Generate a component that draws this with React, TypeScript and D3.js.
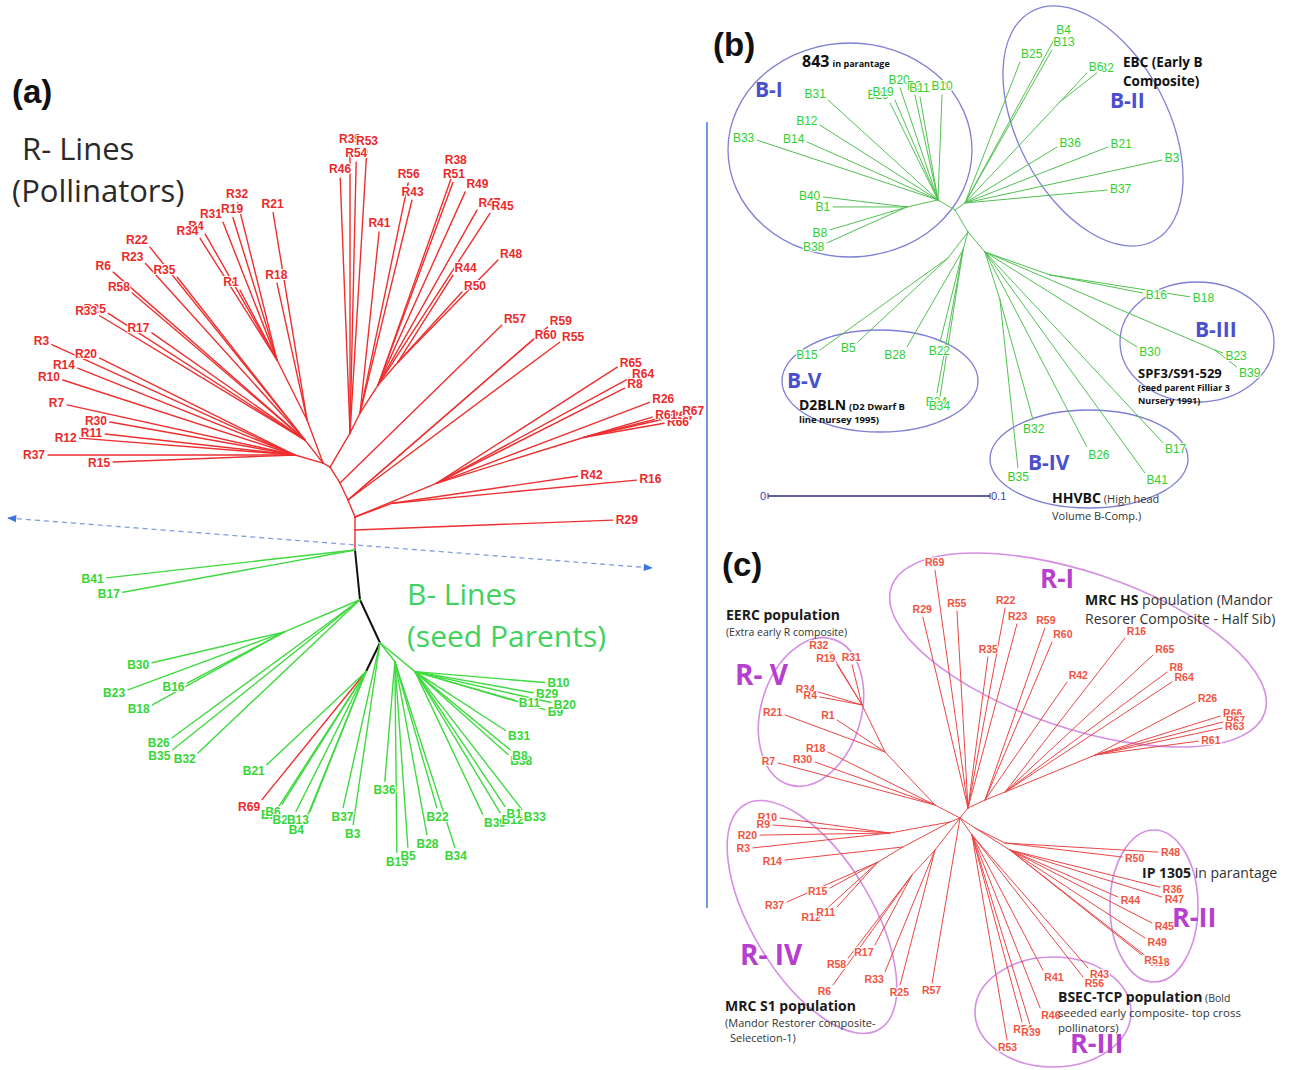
import React from "react";
import * as d3 from "d3";

// Unrooted neighbour-joining trees. Internal nodes: [id, parent, branch length, direction°, lineage]
// Leaves: [name, parent, branch length, direction°]. Directions are counter-clockwise from east.
type NodeRow = [string, string, number, number, string];
type LeafRow = [string, string, number, number];

// ---------- (a) pooled R- and B-lines ----------
const treeANodes: NodeRow[] = [
  ["Q1", "P0", 0.01, 90, "R"],
  ["Q2", "Q1", 0.0065, 90, "R"],
  ["Q3", "Q2", 0.02, 20.2, "R"],
  ["Q4", "Q2", 0.044, 22.5, "R"],
  ["Q6", "Q4", 0.0775, 17.3, "R"],
  ["Q5", "Q2", 0.0092, 112.4, "R"],
  ["Q7", "Q5", 0.0094, 115.2, "R"],
  ["Q8", "Q7", 0.0094, 122, "R"],
  ["A", "Q8", 0.004, 150.3, "R"],
  ["L1", "A", 0.0146, 164, "R"],
  ["L2", "A", 0.0146, 128.1, "R"],
  ["L3", "A", 0.023, 110.4, "R"],
  ["L4", "L3", 0.0335, 116.6, "R"],
  ["U0", "Q8", 0.0197, 59.5, "R"],
  ["U1", "U0", 0.0112, 63.4, "R"],
  ["U2", "U1", 0.0166, 57.3, "R"],
  ["U3", "U2", 0.0152, 49, "R"],
  ["K1", "P0", 0.025, -84.3, "S"],
  ["G1", "K1", 0.041, -156.9, "B"],
  ["K2", "K1", 0.0237, -65, "S"],
  ["K3", "K2", 0.016, -115.8, "S"],
  ["G2", "K2", 0.012, -51.7, "B"],
  ["G3", "K2", 0.0227, -39.6, "B"],
];

const treeALeaves: LeafRow[] = [
  ["R29", "Q1", 0.129, 2.2],
  ["R42", "Q3", 0.0935, 8.3],
  ["R16", "Q3", 0.1225, 5.4],
  ["R65", "Q4", 0.1075, 32.7],
  ["R64", "Q4", 0.11, 28.6],
  ["R8", "Q4", 0.1055, 26.8],
  ["R26", "Q4", 0.114, 20.8],
  ["R63", "Q6", 0.0425, 12.9],
  ["R66", "Q6", 0.0405, 9.9],
  ["R61", "Q6", 0.0355, 16.4],
  ["R67", "Q6", 0.049, 14.2],
  ["R60", "Q5", 0.122, 40.9],
  ["R59", "Q5", 0.132, 40.9],
  ["R55", "Q5", 0.132, 36.7],
  ["R57", "Q7", 0.113, 44.3],
  ["R37", "L1", 0.1235, 180],
  ["R15", "L1", 0.091, 182.2],
  ["R12", "L1", 0.108, 175.5],
  ["R11", "L1", 0.0955, 173.7],
  ["R30", "L1", 0.094, 169.9],
  ["R7", "L1", 0.1167, 167.6],
  ["R10", "L1", 0.122, 162.1],
  ["R14", "L1", 0.117, 158.2],
  ["R20", "L1", 0.109, 153.6],
  ["R3", "L1", 0.1335, 155.6],
  ["R25", "L2", 0.117, 147.2],
  ["R33", "L2", 0.12, 148.8],
  ["R17", "L2", 0.0935, 145],
  ["R58", "L2", 0.1135, 139.6],
  ["R6", "L2", 0.1275, 138.8],
  ["R22", "L2", 0.1238, 128.8],
  ["R23", "L2", 0.119, 132.1],
  ["R35", "L2", 0.1035, 128.1],
  ["R21", "L3", 0.105, 99.3],
  ["R18", "L3", 0.07, 102.4],
  ["R4", "L4", 0.0725, 119.7],
  ["R34", "L4", 0.072, 122.3],
  ["R1", "L4", 0.0395, 117.9],
  ["R19", "L4", 0.0745, 107.2],
  ["R31", "L4", 0.074, 111.4],
  ["R32", "L4", 0.081, 104],
  ["R46", "U0", 0.1275, 92.2],
  ["R54", "U0", 0.1355, 88.7],
  ["R39", "U0", 0.1425, 90],
  ["R53", "U0", 0.1418, 86.6],
  ["R41", "U1", 0.091, 84],
  ["R56", "U1", 0.1175, 78.2],
  ["R43", "U1", 0.1095, 76.3],
  ["R38", "U2", 0.115, 70.5],
  ["R51", "U2", 0.108, 69.7],
  ["R49", "U2", 0.106, 65.7],
  ["R47", "U2", 0.1005, 60.5],
  ["R45", "U2", 0.1025, 56.9],
  ["R48", "U3", 0.0715, 45.6],
  ["R44", "U3", 0.0515, 57.7],
  ["R50", "U3", 0.0475, 47.6],
  ["B41", "P0", 0.125, -173.6],
  ["B17", "P0", 0.118, -169.7],
  ["B30", "G1", 0.068, -166.9],
  ["B23", "G1", 0.0835, -159.7],
  ["B16", "G1", 0.055, -152.3],
  ["B18", "G1", 0.0755, -151.1],
  ["B26", "K1", 0.1165, -143.7],
  ["B35", "K1", 0.12, -141.3],
  ["B32", "K1", 0.1115, -136.6],
  ["R69", "K3", 0.0825, -129.1],
  ["B21", "K3", 0.068, -136.8],
  ["B2", "K3", 0.081, -122.9],
  ["B6", "K3", 0.0785, -122.3],
  ["B25", "K3", 0.0783, -116.6],
  ["B13", "K3", 0.0754, -111.8],
  ["B4", "K3", 0.081, -112.1],
  ["B37", "K2", 0.0845, -102.6],
  ["B3", "K2", 0.092, -98.4],
  ["B36", "G2", 0.06, -94.8],
  ["B15", "G2", 0.0955, -89.4],
  ["B5", "G2", 0.093, -86],
  ["B28", "G2", 0.088, -79.5],
  ["B22", "G2", 0.076, -74],
  ["B34", "G2", 0.0977, -72.1],
  ["B10", "G3", 0.065, -4.8],
  ["B29", "G3", 0.06, -10.1],
  ["B11", "G3", 0.0525, -16],
  ["B9", "G3", 0.0677, -16.3],
  ["B20", "G3", 0.0697, -12.8],
  ["B31", "G3", 0.054, -33],
  ["B38", "G3", 0.0623, -41.7],
  ["B8", "G3", 0.0615, -39.4],
  ["B39", "G3", 0.079, -64.6],
  ["B12", "G3", 0.0823, -58.9],
  ["B1", "G3", 0.081, -56.3],
  ["B33", "G3", 0.0873, -52.2],
];

// ---------- (b) B-lines (seed parents) ----------
const treeBNodes: NodeRow[] = [
  ["bI", "c0", 0.0089, 149.5, "B"],
  ["bIb", "bI", 0.0143, -167.3, "B"],
  ["bII", "c0", 0.0055, 35, "B"],
  ["bIIa", "bII", 0.0624, 46.8, "B"],
  ["bL", "c0", 0.0115, -59.4, "B"],
  ["bV1", "bL", 0.0148, -127.6, "B"],
  ["bV2", "bL", 0.0084, -105.5, "B"],
  ["br0", "bL", 0.0118, -49.6, "B"],
  ["br3", "br0", 0.031, -19.5, "B"],
  ["br2", "br0", 0.1125, -23.1, "B"],
  ["br1", "br0", 0.0226, -72.6, "B"],
];

const treeBLeaves: LeafRow[] = [
  ["B33", "bI", 0.0858, 161.7],
  ["B14", "bI", 0.0645, 156.1],
  ["B12", "bI", 0.0629, 147.6],
  ["B31", "bI", 0.0669, 137.7],
  ["B29", "bI", 0.0487, 116.3],
  ["B19", "bI", 0.049, 113.3],
  ["B20", "bI", 0.0533, 108.7],
  ["B9", "bI", 0.0484, 102.4],
  ["B11", "bI", 0.0471, 99.9],
  ["B10", "bI", 0.0473, 87.8],
  ["B40", "bIb", 0.038, 173.2],
  ["B1", "bIb", 0.0333, 180],
  ["B38", "bIb", 0.0395, -155.8],
  ["B8", "bIb", 0.0362, -163.4],
  ["B25", "bII", 0.0681, 68.7],
  ["B4", "bII", 0.0846, 61.4],
  ["B13", "bII", 0.0792, 60.4],
  ["B36", "bII", 0.0485, 31.3],
  ["B21", "bII", 0.0691, 21.4],
  ["B3", "bII", 0.0907, 12.3],
  ["B37", "bII", 0.0642, 5.2],
  ["B2", "bIIa", 0.0212, 38.1],
  ["B6", "bIIa", 0.0178, 47],
  ["B15", "bV1", 0.0709, -144.3],
  ["B5", "bV1", 0.0554, -137],
  ["B28", "bV2", 0.0504, -120],
  ["B22", "bV2", 0.0427, -104],
  ["B24", "bV2", 0.0654, -100.3],
  ["B34", "bV2", 0.067, -98.9],
  ["B16", "br3", 0.0426, -11],
  ["B18", "br3", 0.0638, -8.9],
  ["B30", "br0", 0.0806, -32],
  ["B26", "br0", 0.099, -62.4],
  ["B41", "br0", 0.1228, -54.1],
  ["B17", "br0", 0.1175, -47],
  ["B23", "br2", 0.0038, -20.6],
  ["B39", "br2", 0.0125, -37.7],
  ["B32", "br1", 0.056, -74.6],
  ["B35", "br1", 0.076, -83.9],
];

// ---------- (c) R-lines (pollinators) ----------
const treeCNodes: NodeRow[] = [
  ["ci0", "c0", 0.0064, 51.3, "R"],
  ["ci1", "ci0", 0.0094, 25.2, "R"],
  ["ci2", "ci1", 0.0108, 21.8, "R"],
  ["ci3", "ci2", 0.0487, 22.3, "R"],
  ["ii0", "c0", 0.009, -33.7, "R"],
  ["ii1", "ii0", 0.0168, -26.6, "R"],
  ["ii2", "ii0", 0.0207, -32.2, "R"],
  ["iii0", "c0", 0.0104, -54.8, "R"],
  ["civ0", "c0", 0.0054, -158.2, "R"],
  ["civ1", "civ0", 0.0305, -169.6, "R"],
  ["civ2", "civ0", 0.0266, -152, "R"],
  ["civ3", "civ2", 0.0146, -149, "R"],
  ["civ4", "c0", 0.0203, -128, "R"],
  ["civ5", "civ4", 0.017, -132.6, "R"],
  ["cv0", "c0", 0.0141, 152.5, "R"],
  ["cv1", "cv0", 0.0364, 133.3, "R"],
  ["cv2", "cv1", 0.0262, 116.1, "R"],
];

const treeCLeaves: LeafRow[] = [
  ["R69", "ci0", 0.12, 97.9],
  ["R29", "ci0", 0.098, 103.3],
  ["R55", "ci0", 0.0987, 93.2],
  ["R35", "ci0", 0.0762, 82.5],
  ["R22", "ci0", 0.1017, 79.5],
  ["R23", "ci0", 0.0952, 75.1],
  ["R59", "ci1", 0.091, 70.8],
  ["R60", "ci1", 0.0858, 67],
  ["R42", "ci1", 0.0718, 55.2],
  ["R16", "ci2", 0.0976, 52.1],
  ["R65", "ci2", 0.1008, 42.8],
  ["R8", "ci2", 0.1008, 36.5],
  ["R64", "ci2", 0.1, 33.4],
  ["R26", "ci3", 0.0566, 27.9],
  ["R66", "ci3", 0.0655, 17.3],
  ["R67", "ci3", 0.066, 14.5],
  ["R63", "ci3", 0.0649, 12],
  ["R61", "ci3", 0.052, 7.7],
  ["R50", "ii1", 0.0589, -6.8],
  ["R48", "ii1", 0.0766, -3.4],
  ["R36", "ii2", 0.0772, -13.9],
  ["R47", "ii2", 0.0795, -17.2],
  ["R44", "ii2", 0.0589, -23.5],
  ["R45", "ii2", 0.0798, -27.2],
  ["R49", "ii2", 0.0806, -33.1],
  ["R38", "ii2", 0.0876, -38],
  ["R51", "ii2", 0.0843, -38.5],
  ["R41", "iii0", 0.0763, -62.3],
  ["R43", "iii0", 0.0882, -48.9],
  ["R56", "iii0", 0.0901, -52],
  ["R46", "iii0", 0.093, -68.5],
  ["R54", "iii0", 0.0968, -75],
  ["R39", "iii0", 0.0993, -73],
  ["R53", "iii0", 0.104, -80.3],
  ["R57", "c0", 0.0837, -99.6],
  ["R10", "civ1", 0.0555, 172.2],
  ["R9", "civ1", 0.0586, 176.1],
  ["R20", "civ1", 0.065, -179.1],
  ["R3", "civ1", 0.0689, -173.8],
  ["R14", "civ2", 0.0594, -173.7],
  ["R37", "civ3", 0.0497, -156.3],
  ["R15", "civ3", 0.0273, -151.6],
  ["R12", "civ3", 0.0372, -137.7],
  ["R11", "civ3", 0.0304, -132.3],
  ["R17", "civ5", 0.0396, -117.9],
  ["R58", "civ5", 0.0524, -127.6],
  ["R6", "civ5", 0.0677, -125.7],
  ["R33", "civ4", 0.0659, -112.3],
  ["R25", "civ4", 0.0697, -104.5],
  ["R7", "cv0", 0.0812, 165],
  ["R30", "cv0", 0.0637, 160.3],
  ["R18", "cv0", 0.0597, 153.7],
  ["R21", "cv1", 0.0533, 159.7],
  ["R1", "cv1", 0.0288, 146.3],
  ["R32", "cv2", 0.031, 121.1],
  ["R19", "cv2", 0.0236, 122],
  ["R31", "cv2", 0.0206, 104],
  ["R34", "cv2", 0.023, 163.5],
  ["R4", "cv2", 0.0214, 169.2],
];

const scaleBarTicks = [0, 0.1];

const angle = d3.scaleLinear().domain([0, 360]).range([0, 2 * Math.PI]);

type Pt = { x: number; y: number };
type Seg = { p: Pt; q: Pt; lineage: string; key: string };
type Tip = { name: string; q: Pt; ang: number };

function layoutTree(
  rootId: string,
  origin: Pt,
  nodes: NodeRow[],
  leaves: LeafRow[],
  len: d3.ScaleLinear<number, number>
) {
  const pos = new Map<string, Pt>();
  pos.set(rootId, origin);
  const segs: Seg[] = [];
  const tips: Tip[] = [];
  const step = (parent: string, l: number, a: number) => {
    const p = pos.get(parent)!;
    const r = len(l);
    const t = angle(a);
    return { p, q: { x: p.x + r * Math.cos(t), y: p.y - r * Math.sin(t) } };
  };
  nodes.forEach(([id, parent, l, a, lineage]) => {
    const { p, q } = step(parent, l, a);
    pos.set(id, q);
    segs.push({ p, q, lineage, key: id });
  });
  leaves.forEach(([name, parent, l, a]) => {
    const { p, q } = step(parent, l, a);
    segs.push({ p, q, lineage: name[0], key: "leaf-" + name });
    tips.push({ name, q, ang: a });
  });
  return { segs, tips };
}

// label sits just beyond the tip, anchored on the side the branch points to
function labelPlacement(t: Tip, fs: number) {
  const c = Math.cos(angle(t.ang));
  const s = Math.sin(angle(t.ang));
  const anchor = c > 0.35 ? "start" : c < -0.35 ? "end" : "middle";
  return {
    x: t.q.x + c * 3,
    y: t.q.y + fs * 0.35 - s * fs * 0.75,
    anchor,
  };
}

const lenA = d3.scaleLinear().domain([0, 0.1]).range([0, 200]);
const lenB = d3.scaleLinear().domain([0, 0.1]).range([0, 222]);
const lenC = d3.scaleLinear().domain([0, 0.1]).range([0, 200]);

const treeA = layoutTree("P0", { x: 355, y: 550 }, treeANodes, treeALeaves, lenA);
const treeB = layoutTree("c0", { x: 955, y: 210 }, treeBNodes, treeBLeaves, lenB);
const treeC = layoutTree("c0", { x: 960, y: 818 }, treeCNodes, treeCLeaves, lenC);

const ARIAL = "'Liberation Sans', Arial, sans-serif";
const OPEN = "'Open Sans', 'Noto Sans', sans-serif";

const colorA: Record<string, string> = { R: "#ee2f2f", B: "#3fda3f", S: "#111111" };
const labelColorA: Record<string, string> = { R: "#ec2a2a", B: "#36d636" };

function TreeLines({
  segs,
  color,
  width,
}: {
  segs: Seg[];
  color: (l: string) => string;
  width: (l: string) => number;
}) {
  return (
    <g strokeLinecap="round">
      {segs.map((s) => (
        <line
          key={s.key}
          x1={s.p.x}
          y1={s.p.y}
          x2={s.q.x}
          y2={s.q.y}
          stroke={color(s.lineage)}
          strokeWidth={width(s.lineage)}
        />
      ))}
    </g>
  );
}

function TreeLabels({
  tips,
  fs,
  weight,
  color,
}: {
  tips: Tip[];
  fs: number;
  weight: string | number;
  color: (name: string) => string;
}) {
  return (
    <g fontFamily={ARIAL} fontSize={fs} fontWeight={weight}>
      {tips.map((t) => {
        const L = labelPlacement(t, fs);
        return (
          <text
            key={"lab-" + t.name}
            x={L.x}
            y={L.y}
            textAnchor={L.anchor as any}
            fill={color(t.name)}
            stroke="#ffffff"
            strokeWidth={2.2}
            strokeLinejoin="round"
            paintOrder="stroke"
          >
            {t.name}
          </text>
        );
      })}
    </g>
  );
}

export default function App() {
  const scaleBarX = d3.scaleLinear().domain([0, 0.1]).range([768, 768 + lenB(0.1)]);
  const blueEll = "#7f80d4";
  const pinkEll = "#d58fe3";
  const grpB = "#4a4fd0";
  const grpC = "#b63fd0";
  return (
    <svg
      width={1291}
      height={1070}
      viewBox="0 0 1291 1070"
      style={{ position: "absolute", left: 0, top: 0, background: "#ffffff" }}
    >
      <defs>
        <marker id="arrowHead" viewBox="0 0 10 10" refX="9" refY="5" markerWidth="9" markerHeight="7" orient="auto-start-reverse">
          <path d="M0,1 L10,5 L0,9 z" fill="#3f73e0" />
        </marker>
      </defs>
      <rect x={0} y={0} width={1291} height={1070} fill="#ffffff" />

      {/* ---------------- panel (a) ---------------- */}
      <text x={12} y={103} fontFamily={ARIAL} fontWeight="bold" fontSize={33} fill="#111">(a)</text>
      <text x={22} y={160} fontFamily={OPEN} fontSize={31} fill="#2a2a2a">R- Lines</text>
      <text x={12} y={202} fontFamily={OPEN} fontSize={31} fill="#2a2a2a">(Pollinators)</text>

      <line
        x1={8}
        y1={518}
        x2={652}
        y2={568}
        stroke="#7f9fe0"
        strokeWidth={1.3}
        strokeDasharray="5 4"
        markerStart="url(#arrowHead)"
        markerEnd="url(#arrowHead)"
      />

      <TreeLines
        segs={treeA.segs}
        color={(l) => colorA[l] ?? "#111"}
        width={(l) => (l === "S" ? 2 : 1.4)}
      />
      <TreeLabels tips={treeA.tips} fs={12} weight="bold" color={(n) => labelColorA[n[0]]} />

      <text x={407} y={605} fontFamily={OPEN} fontSize={30} fill="#3fd25c">B- Lines</text>
      <text x={407} y={647} fontFamily={OPEN} fontSize={30} fill="#3fd25c">(seed Parents)</text>

      {/* separator */}
      <line x1={707} y1={122} x2={707} y2={908} stroke="#6b9be8" strokeWidth={2} />

      {/* ---------------- panel (b) ---------------- */}
      <text x={713} y={56} fontFamily={ARIAL} fontWeight="bold" fontSize={33} fill="#111">(b)</text>

      <g fill="none" stroke={blueEll} strokeWidth={1.3}>
        <ellipse cx={850} cy={150} rx={122} ry={107} />
        <ellipse cx={1093} cy={126} rx={130} ry={75} transform="rotate(62 1093 126)" />
        <ellipse cx={1197} cy={342} rx={77} ry={60} />
        <ellipse cx={1089} cy={459} rx={99} ry={49} />
        <ellipse cx={880} cy={381} rx={98} ry={51} />
      </g>

      <TreeLines segs={treeB.segs} color={() => "#52c052"} width={() => 1} />
      <TreeLabels tips={treeB.tips} fs={12} weight="normal" color={() => "#2fcf2f"} />

      <g fontFamily={OPEN} fontWeight="bold" fontSize={21} fill={grpB}>
        <text x={755} y={97}>B-I</text>
        <text x={1110} y={108}>B-II</text>
        <text x={1195} y={337}>B-III</text>
        <text x={1028} y={470}>B-IV</text>
        <text x={787} y={388}>B-V</text>
      </g>

      <g fontFamily={OPEN} fontWeight="bold" fill="#111">
        <text x={802} y={67} fontSize={16}>
          843<tspan fontSize={9} dx={3}>in parantage</tspan>
        </text>
        <text x={1123} y={67} fontSize={13.5}>EBC (Early B</text>
        <text x={1123} y={86} fontSize={13.5}>Composite)</text>
        <text x={799} y={410} fontSize={14}>
          D2BLN<tspan fontSize={9.5} dx={3}>(D2 Dwarf B</tspan>
        </text>
        <text x={799} y={423} fontSize={9.5}>line nursey 1995)</text>
        <text x={1138} y={378} fontSize={13}>SPF3/S91-529</text>
        <text x={1138} y={391} fontSize={9}>(seed parent Filliar 3</text>
        <text x={1138} y={404} fontSize={9}>Nursery 1991)</text>
        <text x={1052} y={503} fontSize={14}>
          HHVBC<tspan fontWeight="normal" fontSize={11} fill="#333" dx={3}>(High head</tspan>
        </text>
        <text x={1052} y={520} fontSize={11} fontWeight="normal" fill="#333">Volume B-Comp.)</text>
      </g>

      {/* scale bar */}
      <g>
        <line x1={scaleBarX(0)} y1={496} x2={scaleBarX(0.1)} y2={496} stroke="#2c2c86" strokeWidth={1.4} />
        {scaleBarTicks.map((t) => (
          <g key={"sb" + t}>
            <line x1={scaleBarX(t)} y1={493} x2={scaleBarX(t)} y2={499} stroke="#2c2c86" strokeWidth={1} />
            <text
              x={t === 0 ? scaleBarX(t) - 2 : scaleBarX(t) + 1}
              y={500}
              textAnchor={t === 0 ? "end" : "start"}
              fontFamily={ARIAL}
              fontSize={11}
              fill="#3b3bd0"
            >
              {t === 0 ? "0" : String(t)}
            </text>
          </g>
        ))}
      </g>

      {/* ---------------- panel (c) ---------------- */}
      <text x={722} y={576} fontFamily={ARIAL} fontWeight="bold" fontSize={33} fill="#111">(c)</text>

      <g fill="none" stroke={pinkEll} strokeWidth={1.6}>
        <ellipse cx={1078} cy={650} rx={197} ry={78} transform="rotate(18.6 1078 650)" />
        <ellipse cx={811} cy={712} rx={50} ry={76} transform="rotate(16.5 811 712)" />
        <ellipse cx={812} cy={917} rx={60} ry={131} transform="rotate(-31 812 917)" />
        <ellipse cx={1154} cy={906} rx={44} ry={76} />
        <ellipse cx={1053} cy={1012} rx={78} ry={55} />
      </g>

      <TreeLines segs={treeC.segs} color={() => "#e94646"} width={() => 1} />
      <TreeLabels tips={treeC.tips} fs={10.5} weight="bold" color={() => "#f2533f"} />

      <g fontFamily={OPEN} fontWeight="bold" fill={grpC}>
        <text x={735} y={685} fontSize={28}>R- V</text>
        <text x={1040} y={588} fontSize={26}>R-I</text>
        <text x={1172} y={927} fontSize={27}>R-II</text>
        <text x={1070} y={1053} fontSize={27}>R-III</text>
        <text x={740} y={965} fontSize={28}>R- IV</text>
      </g>

      <g fontFamily={OPEN} fill="#1a1a1a">
        <text x={726} y={620} fontSize={14} fontWeight="bold">EERC population</text>
        <text x={726} y={636} fontSize={10.5} fill="#333">(Extra early R composite)</text>
        <text x={1085} y={605} fontSize={14}>
          <tspan fontWeight="bold">MRC HS</tspan>
          <tspan fill="#333"> population (Mandor</tspan>
        </text>
        <text x={1085} y={624} fontSize={14} fill="#333">Resorer Composite - Half Sib)</text>
        <text x={1142} y={878} fontSize={14}>
          <tspan fontWeight="bold">IP 1305</tspan>
          <tspan fill="#333"> in parantage</tspan>
        </text>
        <text x={725} y={1011} fontSize={14} fontWeight="bold">MRC S1 population</text>
        <text x={725} y={1027} fontSize={11} fill="#333">(Mandor Restorer composite-</text>
        <text x={730} y={1042} fontSize={11} fill="#333">Selecetion-1)</text>
        <text x={1058} y={1002} fontSize={14}>
          <tspan fontWeight="bold">BSEC-TCP population</tspan>
          <tspan fontSize={10.5} fill="#333"> (Bold</tspan>
        </text>
        <text x={1058} y={1017} fontSize={11.5} fill="#333">seeded early composite- top cross</text>
        <text x={1058} y={1032} fontSize={11.5} fill="#333">pollinators)</text>
      </g>
    </svg>
  );
}
